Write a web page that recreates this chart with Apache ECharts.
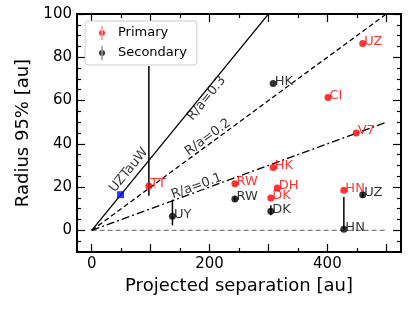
<!DOCTYPE html>
<html><head><meta charset="utf-8">
<script src="https://cdn.jsdelivr.net/npm/echarts@6/dist/echarts.min.js"></script>
<style>html,body{margin:0;padding:0;background:#fff}#c{width:415px;height:311px}</style>
</head><body><div id="c"></div>
<script>
// ---- data ----
const primaryNames = ['TT','RW','HK','DH','DK','HN','CI','V7','UZ'];
const primaryX     = [97, 243, 308, 315, 304, 428, 401, 449, 460];
const primaryY     = [20.5, 21.6, 29, 19.6, 15, 18.5, 61.4, 45, 86.4];
const primaryLo    = [16, 21.6, 29, 19.6, 15, 18.5, 61.4, 45, 86.4];
const primaryHi    = [76, 21.6, 29, 19.6, 15, 18.5, 61.4, 45, 86.4];

const secondaryNames = ['UY','RW','DK','HN','UZ','HK'];
const secondaryX     = [137, 243, 304, 428, 460, 308];
const secondaryY     = [6.5, 14.5, 8.8, 0.5, 16.5, 67.9];
const secondaryLo    = [2.3, 13.2, 7.0, 0.5, 15.2, 67.9];
const secondaryHi    = [14.2, 15.8, 11.6, 15.4, 17.8, 67.9];

const uzTauW = {name: 'UZTauW', x: 49, y: 16.5};

const refRatios = [1/3, 0.2, 0.1];
const refLabels = ['R/a=0.3', 'R/a=0.2', 'R/a=0.1'];
const refLabelX = [195, 197, 178];
const refLabelY = [61, 43, 20.4];
const refEndX = 500;

const xLabelTicks = [0, 200, 400];
const xMajorTicks = [0, 100, 200, 300, 400, 500];
const xMinorTicks = [50, 150, 250, 350, 450];
const yLabelTicks = [0, 20, 40, 60, 80, 100];
const yMinorTicks = [-5, 5, 10, 15, 25, 30, 35, 45, 50, 55, 65, 70, 75, 85, 90, 95];

// ---- chart ----
const FONT = 'DejaVu Sans';
const chart = echarts.init(document.getElementById('c'), null, {renderer: 'canvas'});
const XMIN = -25, XMAX = 525, YMIN = -10, YMAX = 100;

function baseAx(pos, ticks, len, min, max, opts) {
  return Object.assign({
    type: 'value', position: pos, min: min, max: max,
    splitLine: {show: false},
    axisLine: {show: false, onZero: false},
    axisTick: {show: true, inside: true, length: len, customValues: ticks, lineStyle: {color: '#000', width: 1.2}},
    axisLabel: {show: false}
  }, opts || {});
}
const xAx = (p, t, l, o) => baseAx(p, t, l, XMIN, XMAX, o);
const yAx = (p, t, l, o) => baseAx(p, t, l, YMIN, YMAX, o);
const spine = {show: true, onZero: false, lineStyle: {color: '#000', width: 2}};

const xAxes = [
  xAx('bottom', xMajorTicks, 8, {
    axisLine: spine,
    axisLabel: {show: true, customValues: xLabelTicks, margin: 5, color: '#000', fontSize: 15, fontFamily: FONT},
    name: 'Projected separation [au]', nameLocation: 'middle', nameGap: 23,
    nameTextStyle: {color: '#000', fontSize: 18, fontFamily: FONT}
  }),
  xAx('bottom', xMinorTicks, 4),
  xAx('top', xMajorTicks, 8, {axisLine: spine}),
  xAx('top', xMinorTicks, 4)
];
const yAxes = [
  yAx('left', yLabelTicks, 8, {
    axisLine: spine,
    axisLabel: {show: true, customValues: yLabelTicks, margin: 5, color: '#000', fontSize: 15, fontFamily: FONT},
    name: 'Radius 95% [au]', nameLocation: 'middle', nameGap: 42, nameRotate: 90,
    nameTextStyle: {color: '#000', fontSize: 18, fontFamily: FONT}
  }),
  yAx('left', yMinorTicks, 4),
  yAx('right', yLabelTicks, 8, {axisLine: spine}),
  yAx('right', yMinorTicks, 4)
];

const refStyles = [
  {type: 'solid', width: 1.3},
  {type: [5, 3], width: 1.3},
  {type: [8, 3, 2, 3], width: 1.3}
];
const refRot = [50.7, 36.2, 20.1];

const series = [];
series.push({
  type: 'line', xAxisIndex: 0, yAxisIndex: 0, data: [[0, 0], [refEndX, 0]],
  symbol: 'none', silent: true, z: 1,
  lineStyle: {color: '#808080', width: 1.3, type: [5, 3]}
});
refRatios.forEach((r, i) => {
  series.push({
    type: 'line', xAxisIndex: 0, yAxisIndex: 0, data: [[0, 0], [refEndX, r * refEndX]],
    symbol: 'none', silent: true, clip: true, z: 2,
    lineStyle: Object.assign({color: '#000'}, refStyles[i])
  });
});
series.push({
  type: 'scatter', xAxisIndex: 0, yAxisIndex: 0, symbolSize: 0, silent: true, z: 5,
  data: refLabels.map((t, i) => ({
    value: [refLabelX[i], refLabelY[i]],
    label: {show: true, formatter: t, rotate: refRot[i], position: 'inside',
      color: '#000', fontSize: 13, fontFamily: FONT}
  })).concat([{
    value: [63, 27.8],
    label: {show: true, formatter: uzTauW.name, rotate: 50.7, position: 'inside',
      color: '#000', fontSize: 13, fontFamily: FONT}
  }])
});

function errSeries(xs, lo, hi, color) {
  return {
    type: 'custom', xAxisIndex: 0, yAxisIndex: 0, silent: true, clip: true, z: 3,
    data: xs.map((x, i) => [x, lo[i], hi[i]]),
    renderItem: function (params, api) {
      const a = api.coord([api.value(0), api.value(1)]);
      const b = api.coord([api.value(0), api.value(2)]);
      return {type: 'line', shape: {x1: a[0], y1: a[1], x2: b[0], y2: b[1]},
        style: {stroke: color, lineWidth: 1.5}};
    }
  };
}
series.push(errSeries(primaryX, primaryLo, primaryHi, '#000'));
series.push(errSeries(secondaryX, secondaryLo, secondaryHi, '#000'));

const iconPath = 'path://M4.6,0L5.4,0L5.4,14L4.6,14Z M2,7A3,3 0 1,0 8,7A3,3 0 1,0 2,7Z';
function ptLabel(color) {
  return {show: true, position: [5, 8], align: 'left', verticalAlign: 'bottom',
    formatter: p => p.data[2], color: color, fontSize: 13, fontFamily: FONT};
}
series.push({
  name: 'Primary', type: 'scatter', xAxisIndex: 0, yAxisIndex: 0, z: 4,
  symbol: 'circle', symbolSize: 7, itemStyle: {color: '#ff0000'},
  data: primaryX.map((x, i) => [x, primaryY[i], primaryNames[i]]),
  label: ptLabel('#ff0000')
});
series.push({
  name: 'Secondary', type: 'scatter', xAxisIndex: 0, yAxisIndex: 0, z: 4,
  symbol: 'circle', symbolSize: 7, itemStyle: {color: '#000'},
  data: secondaryX.map((x, i) => [x, secondaryY[i], secondaryNames[i]]),
  label: ptLabel('#000')
});
series.push({
  name: uzTauW.name, type: 'scatter', xAxisIndex: 0, yAxisIndex: 0, z: 4,
  symbol: 'rect', symbolSize: 7, itemStyle: {color: '#0000ff'},
  data: [[uzTauW.x, uzTauW.y]]
});

chart.setOption({
  animation: false,
  backgroundColor: '#fff',
  grid: {left: 77, right: 14, top: 14, bottom: 59, containLabel: false},
  xAxis: xAxes,
  yAxis: yAxes,
  legend: {
    data: [{name: 'Primary', icon: iconPath}, {name: 'Secondary', icon: iconPath}],
    orient: 'vertical', left: 85, top: 21, itemWidth: 6, itemHeight: 14, itemGap: 6,
    padding: [5, 10, 5, 14], backgroundColor: '#ffffff', z: 10,
    borderColor: '#cccccc', borderWidth: 1, borderRadius: 3,
    itemStyle: {borderWidth: 0},
    lineStyle: {width: 0, opacity: 0},
    textStyle: {color: '#000', fontSize: 13, fontFamily: FONT, padding: [0, 0, 0, 8]},
    selectedMode: false
  },
  series: series
});
</script></body></html>
